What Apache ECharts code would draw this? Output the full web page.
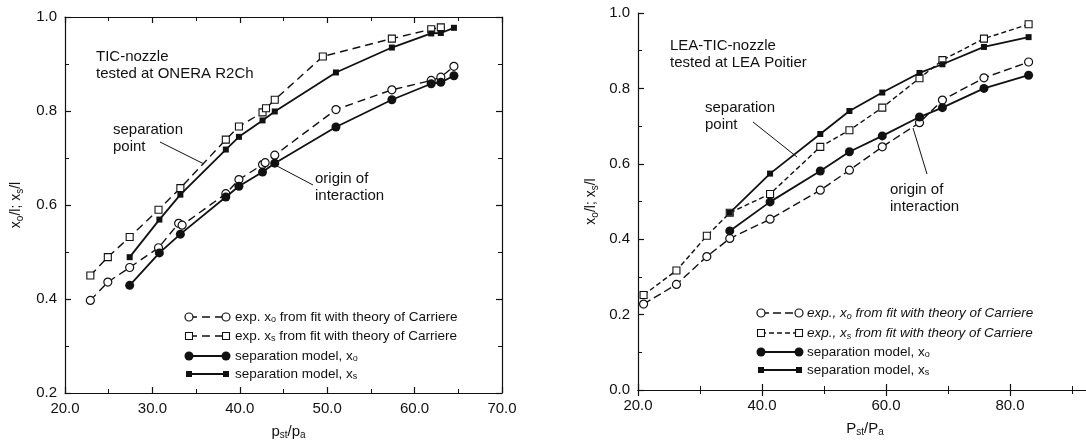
<!DOCTYPE html>
<html>
<head>
<meta charset="utf-8">
<script src="https://cdn.jsdelivr.net/npm/echarts@6/dist/echarts.min.js"></script>
<style>html,body{margin:0;padding:0;background:#fff}#c{width:1086px;height:441px}</style>
</head>
<body>
<div id="c"></div>
<script>
// ---- Left chart (TIC-nozzle, ONERA R2Ch) ----
const leftExpX0 = [[22.9,0.397],[24.9,0.436],[27.4,0.467],[30.7,0.509],[33.0,0.561],[33.4,0.557],[38.4,0.624],[39.9,0.654],[42.6,0.686],[42.9,0.690],[44.0,0.706],[51.0,0.803],[57.4,0.845],[61.9,0.865],[63.0,0.872],[64.5,0.895]];
const leftExpXs = [[22.9,0.450],[24.9,0.489],[27.4,0.532],[30.7,0.590],[33.2,0.636],[38.4,0.739],[39.9,0.767],[42.6,0.797],[43.0,0.806],[44.0,0.824],[49.5,0.916],[57.4,0.954],[61.9,0.974],[63.0,0.978]];
const leftModelX0 = [[27.4,0.429],[30.8,0.498],[33.2,0.538],[38.4,0.617],[39.9,0.640],[42.6,0.670],[44.0,0.689],[51.0,0.766],[57.4,0.824],[61.9,0.858],[63.0,0.861],[64.5,0.875]];
const leftModelXs = [[27.4,0.489],[30.8,0.569],[33.2,0.622],[38.4,0.718],[39.9,0.745],[42.6,0.780],[44.0,0.799],[51.0,0.882],[57.4,0.935],[61.9,0.965],[63.0,0.966],[64.5,0.977]];

// ---- Right chart (LEA-TIC-nozzle, LEA Poitier) ----
const rightExpX0 = [[20.9,0.228],[26.2,0.280],[31.1,0.354],[34.8,0.402],[41.3,0.453],[49.4,0.530],[54.1,0.583],[59.4,0.645],[65.4,0.709],[69.1,0.769],[75.8,0.828],[83.0,0.870]];
const rightExpXs = [[20.9,0.252],[26.2,0.317],[31.1,0.409],[34.8,0.470],[41.3,0.520],[49.4,0.645],[54.1,0.689],[59.4,0.749],[65.4,0.827],[69.1,0.875],[75.8,0.932],[83.0,0.970]];
const rightModelX0 = [[34.8,0.422],[41.3,0.499],[49.4,0.581],[54.1,0.632],[59.4,0.674],[65.4,0.724],[69.1,0.749],[75.8,0.800],[83.0,0.835]];
const rightModelXs = [[34.8,0.470],[41.3,0.574],[49.4,0.679],[54.1,0.740],[59.4,0.789],[65.4,0.841],[69.1,0.864],[75.8,0.910],[83.0,0.936]];

const leftLegend = ['exp. x{sub|o} from fit with theory of Carriere','exp. x{sub|s} from fit with theory of Carriere','separation model, x{sub|o}','separation model, x{sub|s}'];
const rightLegend = ['{it|exp., x}{its|o}{it| from fit with theory of Carriere}','{it|exp., x}{its|s}{it| from fit with theory of Carriere}','separation model, x{sub|o}','separation model, x{sub|s}'];

const INK = '#111';
const FONT = 'Liberation Sans, Arial, sans-serif';
const chart = echarts.init(document.getElementById('c'));

function axisBase(extra){
  return Object.assign({
    type:'value',
    axisLine:{show:true,lineStyle:{color:INK,width:1.2}},
    axisTick:{show:true,inside:true,length:6,lineStyle:{color:INK,width:1.2}},
    minorTick:{show:true,splitNumber:2,length:4,lineStyle:{color:INK,width:1}},
    splitLine:{show:false},
    axisLabel:{show:true,color:INK,fontSize:15,fontFamily:FONT,formatter:v=>v.toFixed(1)}
  },extra);
}
const subRich = {
  sub:{fontSize:10,fontFamily:FONT,color:INK,padding:[7,0,0,0]}
};

function series(data, xi, yi, kind, dash){
  const s = {type:'line',data:data,xAxisIndex:xi,yAxisIndex:yi,animation:false,z:kind.startsWith('model')?3:2,
    lineStyle:{color:INK,width:kind.startsWith('model')?1.8:1.4,type:dash||'solid'}};
  if(kind==='expC'){s.symbol='circle';s.symbolSize=8;s.itemStyle={color:'#fff',borderColor:INK,borderWidth:1.2};}
  if(kind==='expS'){s.symbol='rect';s.symbolSize=7;s.itemStyle={color:'#fff',borderColor:INK,borderWidth:1.1};}
  if(kind==='modelC'){s.symbol='circle';s.symbolSize=9;s.itemStyle={color:INK};}
  if(kind==='modelS'){s.symbol='rect';s.symbolSize=6;s.itemStyle={color:INK};}
  return s;
}

function legendGraphic(x0,x1,tx,ys,texts,dashes){
  const g=[];
  const kinds=['expC','expS','modelC','modelS'];
  ys.forEach((y,i)=>{
    g.push({type:'line',shape:{x1:x0,y1:y,x2:x1,y2:y},style:{stroke:INK,lineWidth:i<2?1.4:1.8,lineDash:dashes[i]}});
    [x0,x1].forEach(x=>{
      const k=kinds[i];
      if(k==='expC') g.push({type:'circle',shape:{cx:x,cy:y,r:4},style:{fill:'#fff',stroke:INK,lineWidth:1.2},z:10});
      if(k==='expS') g.push({type:'rect',shape:{x:x-3.5,y:y-3.5,width:7,height:7},style:{fill:'#fff',stroke:INK,lineWidth:1.1},z:10});
      if(k==='modelC') g.push({type:'circle',shape:{cx:x,cy:y,r:4.5},style:{fill:INK},z:10});
      if(k==='modelS') g.push({type:'rect',shape:{x:x-3,y:y-3,width:6,height:6},style:{fill:INK},z:10});
    });
    g.push({type:'text',x:tx,y:y,style:{text:texts[i],fill:INK,font:'13.5px '+FONT,verticalAlign:'middle',
      rich:{sub:{fontSize:9,fontFamily:FONT,fill:INK,padding:[6,0,0,0]},
            it:{fontSize:13.5,fontStyle:'italic',fontFamily:FONT,fill:INK},
            its:{fontSize:9,fontStyle:'italic',fontFamily:FONT,fill:INK,padding:[6,0,0,0]}}}});
  });
  return g;
}

function txt(x,y,t){return {type:'text',x:x,y:y,style:{text:t,fill:INK,font:'15px '+FONT,lineHeight:17}};}
function ln(x1,y1,x2,y2){return {type:'line',shape:{x1,y1,x2,y2},style:{stroke:INK,lineWidth:1}};}

const graphics = [].concat(
  [txt(96,48,'TIC-nozzle\ntested at ONERA R2Ch'),
   txt(113,121,'separation\npoint'), ln(160,142,204,164),
   txt(315,170,'origin of\ninteraction'), ln(313,185,277,166),
   txt(670,37,'LEA-TIC-nozzle\ntested at LEA Poitier'),
   txt(705,99,'separation\npoint'), ln(753,122,797,157),
   txt(890,181,'origin of\ninteraction'), ln(927,174,913,128)],
  legendGraphic(189,226,235,[317,336,356,374],leftLegend,[[8,5],[8,5],null,null]),
  legendGraphic(761,799,807,[313,333,352,370],rightLegend,[[8,4],[5,3],null,null])
);

chart.setOption({
  animation:false,
  backgroundColor:'#fff',
  grid:[
    {left:65,top:17,width:437,height:376,outerBoundsMode:'none',containLabel:false},
    {left:638,top:13,width:496,height:377,outerBoundsMode:'none',containLabel:false}
  ],
  xAxis:[
    axisBase({gridIndex:0,min:20,max:70,interval:10,position:'bottom',
      name:'p{sub|st}/p{sub|a}',nameLocation:'middle',nameGap:30,nameTextStyle:{color:INK,fontSize:15,fontFamily:FONT,rich:subRich,padding:[0,0,0,10]}}),
    axisBase({gridIndex:0,min:20,max:70,interval:10,position:'top',axisLabel:{show:false}}),
    axisBase({gridIndex:1,min:20,max:100,interval:20,position:'bottom',
      name:'P{sub|st}/P{sub|a}',nameLocation:'middle',nameGap:30,nameTextStyle:{color:INK,fontSize:15,fontFamily:FONT,rich:subRich,padding:[0,42,0,0]}}),
    axisBase({gridIndex:1,min:20,max:100,interval:20,position:'top',axisLabel:{show:false}})
  ],
  yAxis:[
    axisBase({gridIndex:0,min:0.2,max:1.0,interval:0.2,position:'left',
      name:'x{sub|o}/l; x{sub|s}/l',nameLocation:'middle',nameGap:40,nameRotate:90,nameTextStyle:{color:INK,fontSize:14,fontFamily:FONT,rich:subRich}}),
    axisBase({gridIndex:0,min:0.2,max:1.0,interval:0.2,position:'right',axisLabel:{show:false}}),
    axisBase({gridIndex:1,min:0,max:1.0,interval:0.2,position:'left',
      name:'x{sub|o}/l; x{sub|s}/l',nameLocation:'middle',nameGap:38,nameRotate:90,nameTextStyle:{color:INK,fontSize:14,fontFamily:FONT,rich:subRich}}),
    axisBase({gridIndex:1,min:0,max:1.0,interval:0.2,position:'right',axisLabel:{show:false}})
  ],
  series:[
    series(leftExpX0,0,0,'expC',[8,5]),
    series(leftExpXs,0,0,'expS',[8,5]),
    series(leftModelX0,0,0,'modelC'),
    series(leftModelXs,0,0,'modelS'),
    series(rightExpX0,2,2,'expC',[8,4]),
    series(rightExpXs,2,2,'expS',[5,3]),
    series(rightModelX0,2,2,'modelC'),
    series(rightModelXs,2,2,'modelS')
  ],
  graphic:graphics
});
</script>
</body>
</html>
